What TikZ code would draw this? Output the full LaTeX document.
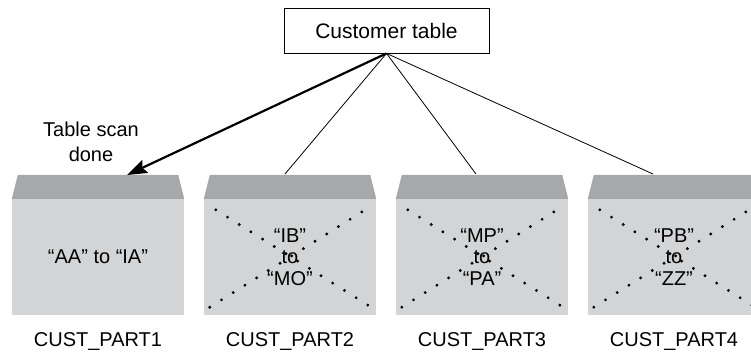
\documentclass[tikz,border=0pt]{standalone}
\usepackage{fontspec}
\setmainfont{Liberation Sans}
\usetikzlibrary{arrows.meta}
\definecolor{bodygray}{RGB}{211,212,213}
\definecolor{roofgray}{RGB}{167,168,170}
\newcommand{\partfont}{\fontsize{20}{21.5}\selectfont}
\begin{document}
\begin{tikzpicture}[x=1pt,y=-1pt,
    tablebox/.style={draw,line width=0.8pt,minimum width=205pt,minimum height=45pt,inner sep=0pt,font=\fontsize{21}{24}\selectfont},
    partbody/.style={fill=bodygray,minimum width=172pt,minimum height=116pt,inner sep=0pt,align=center,font=\partfont},
    roof/.style={fill=roofgray},
    xdots/.style={line width=3.2pt,line cap=round,dash pattern=on 0pt off 13.8pt},
    partlabel/.style={font=\partfont},
    feed/.style={line width=0.8pt},
    scanned/.style={line width=2.2pt,-{Stealth[length=20pt,width=14pt,inset=3pt]}}]
    \useasboundingbox (0,0) rectangle (751,351);

    \node[tablebox] (tab) at (386.5,30.5) {Customer table};

    \node[partbody] (p1) at (98,257) {“AA” to “IA”};
    \node[partbody] (p2) at (290,257) {};
    \node[partbody] (p3) at (482,257) {};
    \node[partbody] (p4) at (674,257) {};

    % roofs on top of each partition
    \foreach \p in {p1,p2,p3,p4}
      \fill[roof] (\p.north west) -- ([xshift=6pt,yshift=24pt]\p.north west)
        -- ([xshift=-6pt,yshift=24pt]\p.north east) -- (\p.north east) -- cycle;

    % skipped partitions
    \foreach \p in {p2,p3,p4} {
      \draw[xdots] ([shift={(12,11)}]\p.north west) -- ([shift={(-5,-8)}]\p.south east);
      \draw[xdots] ([shift={(6,-8)}]\p.south west) -- ([shift={(-11,11)}]\p.north east);
    }

    \node[partbody,fill=none] at (p2) {“IB”\\to\\“MO”};
    \node[partbody,fill=none] at (p3) {“MP”\\to\\“PA”};
    \node[partbody,fill=none] at (p4) {“PB”\\to\\“ZZ”};

    \node[partlabel] (l1) at (98,341) {CUST\_PART1};
    \node[partlabel] (l2) at (290,341) {CUST\_PART2};
    \node[partlabel] (l3) at (482,341) {CUST\_PART3};
    \node[partlabel] (l4) at (674,341) {CUST\_PART4};

    \node[align=center,font=\fontsize{20}{25}\selectfont] (scan) at (91,142) {Table scan\\done};

    \coordinate (hit1) at (127,175);
    \coordinate (hit2) at (285,174);
    \coordinate (hit3) at (476,174);
    \coordinate (hit4) at (653,174);

    \draw[scanned] (tab.south) -- (hit1);
    \draw[feed] (tab.south) -- (hit2);
    \draw[feed] (tab.south) -- (hit3);
    \draw[feed] (tab.south) -- (hit4);
\end{tikzpicture}
\end{document}
